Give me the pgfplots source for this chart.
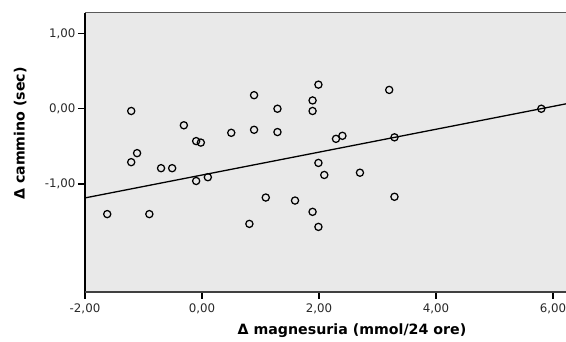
\documentclass[border=0pt]{standalone}
\usepackage{fontspec}
\setmainfont{DejaVu Sans}
\usepackage{pgfplots}
\pgfplotsset{compat=1.18}
\definecolor{bg}{RGB}{233,233,233}
\definecolor{tickgray}{RGB}{40,40,40}
\begin{document}
\begin{tikzpicture}[x=1pt,y=1pt]
\path[use as bounding box] (0,0) rectangle (566,342);
\begin{axis}[
  at={(85pt,50pt)}, anchor=south west,
  scale only axis, width=481pt, height=279pt,
  xmin=-2, xmax=6.222, ymin=-2.435, ymax=1.272,
  axis background/.style={fill=bg},
  axis line style={draw=none},
  tick align=outside, tick pos=left,
  major tick length=7pt,
  tick style={black, line width=1.2pt},
  xtick={-2,0,2,4,6},
  xticklabels={{-2,00},{0,00},{2,00},{4,00},{6,00}},
  ytick={-1,0,1},
  yticklabels={{-1,00},{0,00},{1,00}},
  tick label style={font=\fontsize{11.8}{13}\selectfont, text=tickgray},
  xticklabel style={yshift=-1pt},
  yticklabel style={xshift=1pt},
  xlabel={\textbf{Δ magnesuria (mmol/24 ore)}},
  ylabel={\textbf{Δ cammino (sec)}},
  label style={font=\fontsize{14.2}{16}\selectfont},
  xlabel style={at={(axis description cs:0.555,-0.14)}, anchor=center},
  ylabel style={at={(axis description cs:-0.135,0.568)}, anchor=center, rotate=0},
  clip=false,
]
\addplot[only marks, mark=o, mark size=3.6pt, mark options={line width=1.25pt, black}] coordinates {
(-1.62,-1.40) (-1.21,-0.03) (-1.21,-0.71) (-1.11,-0.59) (-0.90,-1.40)
(-0.70,-0.79) (-0.51,-0.79) (-0.31,-0.22) (-0.10,-0.43) (-0.02,-0.45)
(-0.10,-0.96) (0.10,-0.91) (0.50,-0.32) (0.89,0.18) (0.89,-0.28)
(1.29,0.00) (1.29,-0.31) (1.09,-1.18) (0.81,-1.53) (1.59,-1.22)
(1.89,0.11) (1.89,-0.03) (1.99,0.32) (1.89,-1.37) (1.99,-1.57)
(1.99,-0.72) (2.09,-0.88) (2.29,-0.40) (2.40,-0.36) (2.70,-0.85)
(3.20,0.25) (3.29,-0.38) (3.29,-1.17) (5.80,0.00)
};
\addplot[black, line width=1.3pt] coordinates {(-2,-1.185) (6.222,0.065)};
\draw[black, line width=1.3pt] (rel axis cs:0,1) -- (rel axis cs:0,0);
\draw[black!75, line width=1.2pt] (rel axis cs:0,0) -- (rel axis cs:1,0);
\draw[black!65, line width=1pt] (rel axis cs:0,1) -- (rel axis cs:1,1);
\end{axis}
\end{tikzpicture}
\end{document}
